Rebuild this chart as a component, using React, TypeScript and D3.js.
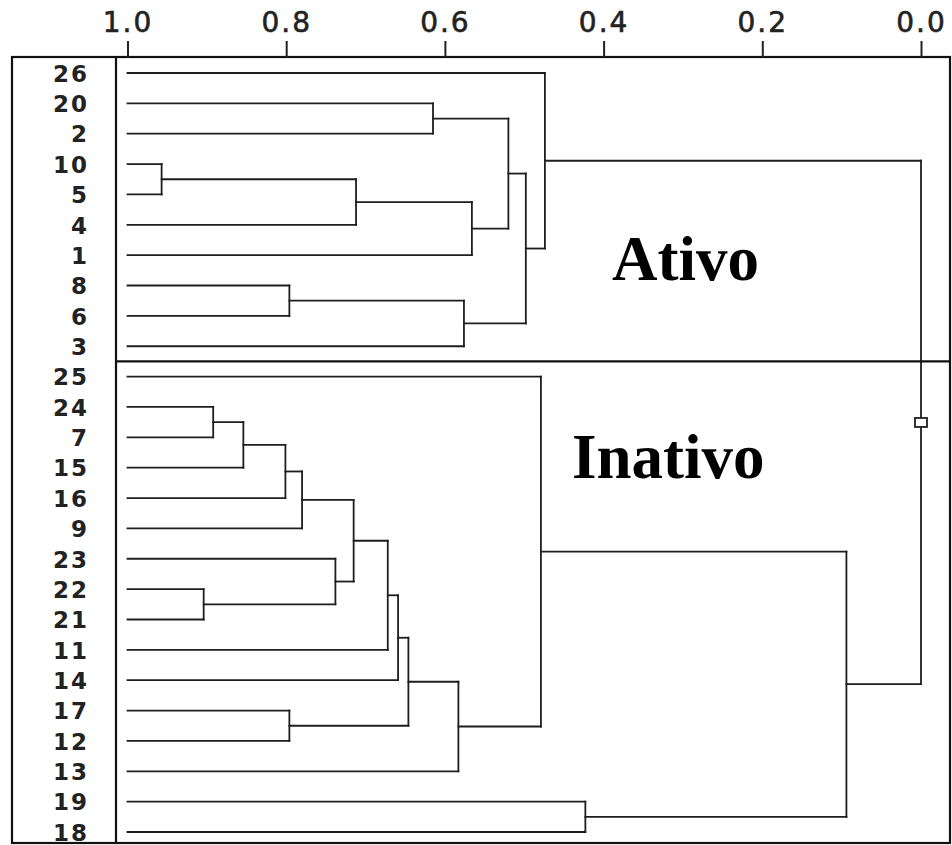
import { useEffect, useRef } from 'react';
import * as d3 from 'd3';

// leaf order, top to bottom
const leafOrder = [
  '26', '20', '2', '10', '5', '4', '1', '8', '6', '3',
  '25', '24', '7', '15', '16', '9', '23', '22', '21', '11',
  '14', '17', '12', '13', '19', '18',
];

// merges, in order; node i gets id "m" + i
const mergeChildren: [string, string][] = [
  ['10', '5'],   // m0
  ['m0', '4'],   // m1
  ['20', '2'],   // m2
  ['m1', '1'],   // m3
  ['m2', 'm3'],  // m4
  ['8', '6'],    // m5
  ['m5', '3'],   // m6
  ['m4', 'm6'],  // m7
  ['26', 'm7'],  // m8  (Ativo)
  ['24', '7'],   // m9
  ['m9', '15'],  // m10
  ['m10', '16'], // m11
  ['m11', '9'],  // m12
  ['22', '21'],  // m13
  ['23', 'm13'], // m14
  ['m12', 'm14'],// m15
  ['m15', '11'], // m16
  ['m16', '14'], // m17
  ['17', '12'],  // m18
  ['m17', 'm18'],// m19
  ['m19', '13'], // m20
  ['25', 'm20'], // m21
  ['19', '18'],  // m22
  ['m21', 'm22'],// m23 (Inativo)
  ['m8', 'm23'], // m24 root
];

const mergeHeights = [
  0.957, 0.712, 0.615, 0.566, 0.520, 0.796, 0.576, 0.498, 0.474,
  0.892, 0.854, 0.801, 0.780, 0.904, 0.738, 0.715, 0.672, 0.659,
  0.796, 0.646, 0.583, 0.479, 0.423, 0.094, 0.0,
];

const tickValues = [1.0, 0.8, 0.6, 0.4, 0.2, 0.0];
const groupLabels = ['Ativo', 'Inativo'];
const groupSplitAfter = '3';

export default function App() {
  const svgRef = useRef<SVGSVGElement>(null);

  useEffect(() => {
    const W = 952;
    const H = 845;
    const box = { left: 12, right: 950, top: 57, bottom: 843 };
    const labelCol = 116;

    const svg = d3.select(svgRef.current).attr('width', W).attr('height', H);
    svg.selectAll('*').remove();

    const x = d3.scaleLinear().domain([1, 0]).range([127.5, 921]);
    const y = d3.scalePoint<string>().domain(leafOrder).range([73, 832]);

    // positions of every node
    const pos = new Map<string, { x: number; y: number }>();
    leafOrder.forEach(l => pos.set(l, { x: x(1), y: y(l) as number }));

    const segs: [number, number, number, number][] = [];
    mergeChildren.forEach(([a, b], i) => {
      const pa = pos.get(a)!;
      const pb = pos.get(b)!;
      const nx = x(mergeHeights[i]);
      const ny = (pa.y + pb.y) / 2;
      segs.push([pa.x, pa.y, nx, pa.y]);
      segs.push([pb.x, pb.y, nx, pb.y]);
      segs.push([nx, pa.y, nx, pb.y]);
      pos.set('m' + i, { x: nx, y: ny });
    });

    const g = svg.append('g');

    // dendrogram
    g.selectAll('.seg')
      .data(segs)
      .join('line')
      .attr('class', 'seg')
      .attr('x1', d => d[0])
      .attr('y1', d => d[1])
      .attr('x2', d => d[2])
      .attr('y2', d => d[3])
      .attr('stroke', '#1e1e1e')
      .attr('stroke-width', 1.8)
      .attr('stroke-linecap', 'square');

    // small marker on the root link
    const root = pos.get('m' + (mergeChildren.length - 1))!;
    g.append('rect')
      .attr('x', root.x - 6)
      .attr('y', root.y - 4.5)
      .attr('width', 12)
      .attr('height', 9)
      .attr('fill', '#fff')
      .attr('stroke', '#1e1e1e')
      .attr('stroke-width', 1.8);

    // frame
    g.append('rect')
      .attr('x', box.left)
      .attr('y', box.top)
      .attr('width', box.right - box.left)
      .attr('height', box.bottom - box.top)
      .attr('fill', 'none')
      .attr('stroke', '#111')
      .attr('stroke-width', 2.2);

    g.append('line')
      .attr('x1', labelCol).attr('x2', labelCol)
      .attr('y1', box.top).attr('y2', box.bottom)
      .attr('stroke', '#111')
      .attr('stroke-width', 2.2);

    const splitIdx = leafOrder.indexOf(groupSplitAfter);
    const splitY = ((y(leafOrder[splitIdx]) as number) + (y(leafOrder[splitIdx + 1]) as number)) / 2;
    g.append('line')
      .attr('x1', labelCol).attr('x2', box.right)
      .attr('y1', splitY).attr('y2', splitY)
      .attr('stroke', '#111')
      .attr('stroke-width', 2.2);

    // leaf labels
    g.selectAll('.leaf')
      .data(leafOrder)
      .join('text')
      .attr('class', 'leaf')
      .attr('x', 89)
      .attr('y', d => y(d) as number)
      .attr('dy', '0.38em')
      .attr('text-anchor', 'end')
      .style('font-family', '"DejaVu Sans", sans-serif')
      .style('font-weight', 'bold')
      .style('font-size', '23px')
      .style('letter-spacing', '2px')
      .attr('fill', '#222')
      .text(d => d);

    // top axis
    const axis = g.append('g')
      .attr('transform', `translate(0,${box.top})`)
      .call(
        d3.axisTop(x)
          .tickValues(tickValues)
          .tickFormat(d3.format('.1f'))
          .tickSize(16)
          .tickPadding(9)
      );
    axis.select('.domain').remove();
    axis.selectAll('line').attr('stroke', '#222').attr('stroke-width', 2);
    axis.selectAll('text')
      .attr('fill', '#222')
      .attr('stroke', '#222')
      .attr('stroke-width', 0.6)
      .style('font-family', '"DejaVu Sans", sans-serif')
      .style('font-size', '28px')
      .style('letter-spacing', '2px');

    // group labels
    const groupPos = [
      { x: 612, y: 280 },
      { x: 572, y: 478 },
    ];
    g.selectAll('.grp')
      .data(groupLabels)
      .join('text')
      .attr('class', 'grp')
      .attr('x', (_, i) => groupPos[i].x)
      .attr('y', (_, i) => groupPos[i].y)
      .style('font-family', '"Liberation Serif", "Times New Roman", serif')
      .style('font-weight', 'bold')
      .style('font-size', '63px')
      .attr('fill', '#000')
      .text(d => d);
  }, []);

  return (
    <div>
      <svg ref={svgRef} style={{ position: 'absolute', left: 0, top: 0, background: '#fff' }}></svg>
    </div>
  );
}
